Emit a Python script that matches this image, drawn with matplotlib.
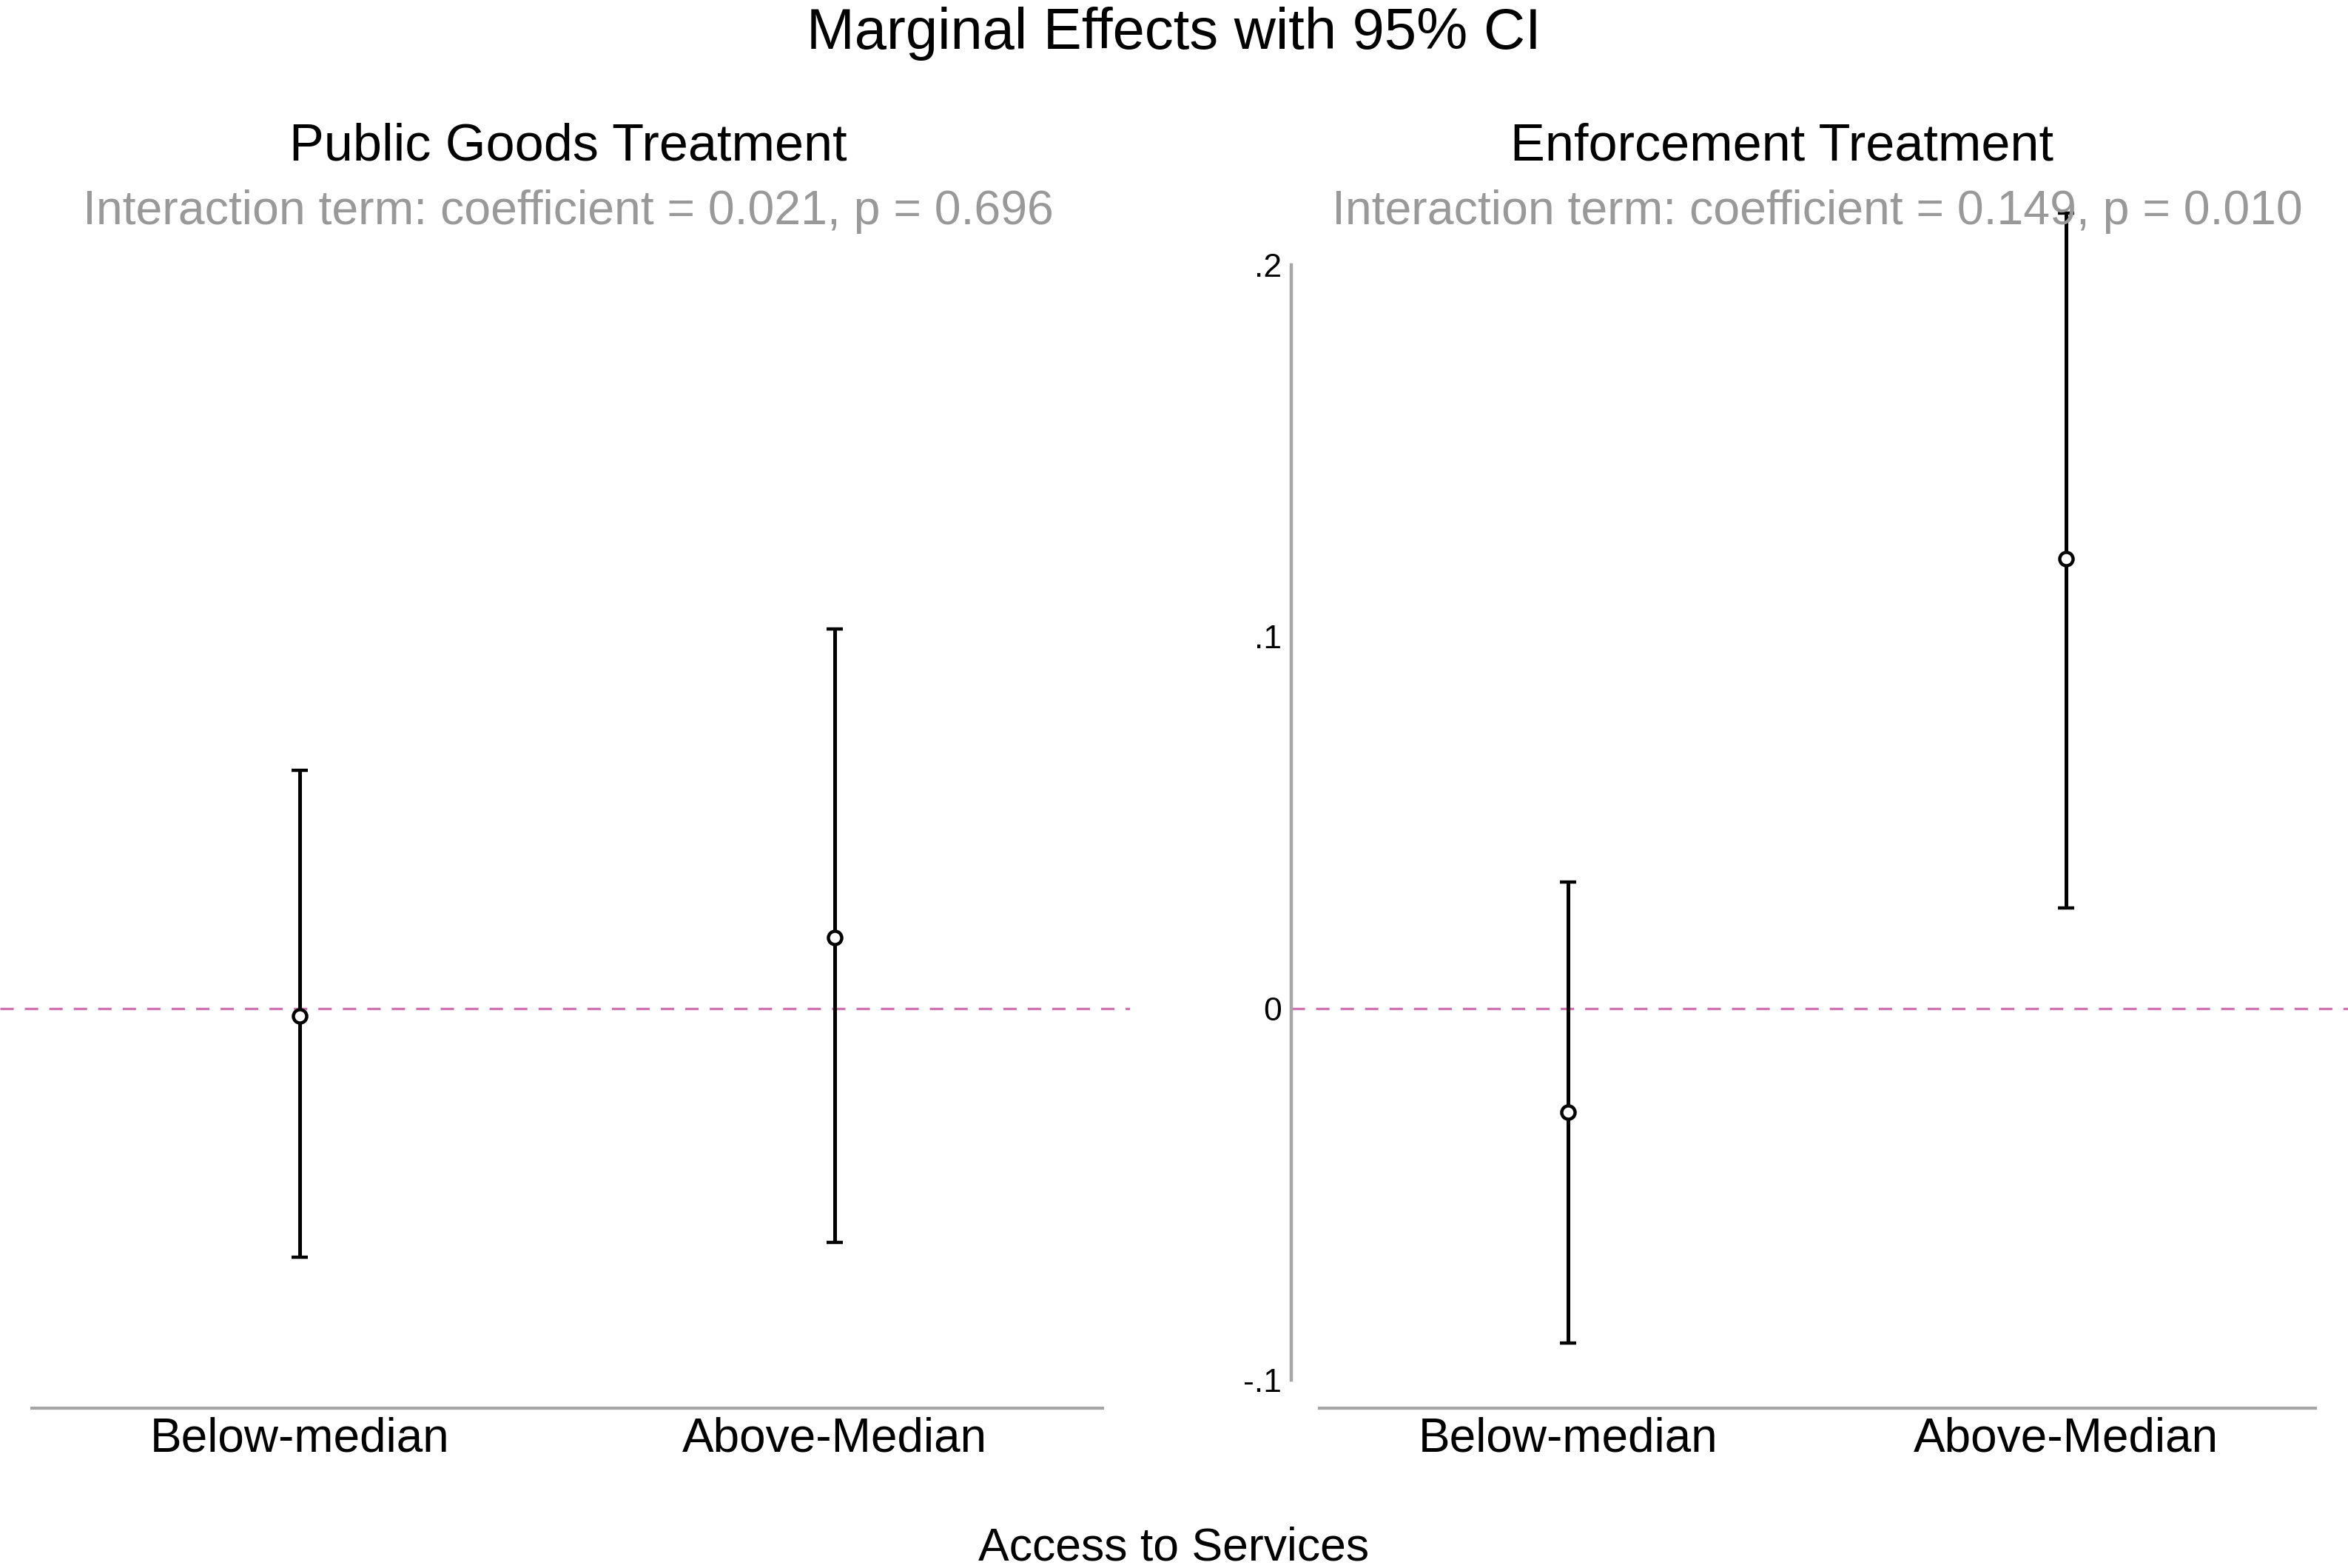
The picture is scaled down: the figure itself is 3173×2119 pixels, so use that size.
import matplotlib
matplotlib.use("Agg")
import matplotlib.pyplot as plt
import numpy as np

plt.rcParams['font.family'] = ['Liberation Sans', 'DejaVu Sans']
plt.rcParams['lines.scale_dashes'] = False

# data
categories = ["Below-median", "Above-Median"]
panel_titles = ["Public Goods Treatment", "Enforcement Treatment"]
panel_notes = ["Interaction term: coefficient = 0.021, p = 0.696",
               "Interaction term: coefficient = 0.149, p = 0.010"]

pg_est = [-0.002, 0.019]
pg_lo = [-0.067, -0.063]
pg_hi = [0.064, 0.102]

enf_est = [-0.028, 0.121]
enf_lo = [-0.090, 0.027]
enf_hi = [0.034, 0.214]

yticks = [-0.1, 0, 0.1, 0.2]
ytick_labels = ["-.1", "0", ".1", ".2"]

grey = "#a6a6a6"
pink = "#cf74b0"

fig = plt.figure(figsize=(15.865, 10.595), dpi=200)
ax_bottom, ax_height = 0.1199, 0.7112
ax_left = fig.add_axes([0.0, ax_bottom, 0.4813, ax_height])
ax_right = fig.add_axes([0.550, ax_bottom, 0.450, ax_height])

panels = [(ax_left, pg_est, pg_lo, pg_hi, (0.440, 2.552)),
          (ax_right, enf_est, enf_lo, enf_hi, (0.444, 2.566))]
x = np.arange(1, len(categories) + 1)

for i, (ax, est, lo, hi, xl) in enumerate(panels):
    # spine position first, it resets the ticks
    for s in ['top', 'right']:
        ax.spines[s].set_visible(False)
    ax.spines['bottom'].set_position(('outward', 13.7))
    ax.spines['bottom'].set_color(grey)
    ax.spines['bottom'].set_linewidth(1.5)

    est = np.array(est)
    yerr = [est - np.array(lo), np.array(hi) - est]
    ax.axhline(0, color=pink, lw=1.2, linestyle=(0, (6.5, 5.4)), zorder=1)
    ax.errorbar(x, est, yerr=yerr, fmt='o', color='black', ecolor='black',
                elinewidth=1.8, capsize=4, capthick=1.8, ms=6.5, mew=1.6,
                mfc='white', mec='black', clip_on=False, zorder=3)
    ax.set_xlim(*xl)
    ax.set_ylim(-0.1, 0.2)
    ax.set_xticks(x)
    ax.set_xticklabels(categories, fontsize=23)
    ax.tick_params(axis='x', length=0, pad=4)
    ax.spines['bottom'].set_bounds(0.5, 2.5)
    ax.patch.set_alpha(0)
    if i == 0:
        ax.spines['left'].set_visible(False)
        ax.set_yticks([])
    else:
        ax.spines['left'].set_color(grey)
        ax.spines['left'].set_linewidth(1.6)
        ax.set_yticks(yticks)
        ax.set_yticklabels(ytick_labels, fontsize=16)
        ax.tick_params(axis='y', length=0, pad=4.7)

# titles
fig.text(0.5, 0.969, "Marginal Effects with 95% CI", ha='center', va='baseline', fontsize=28)
title_x = [0.2420, 0.7588]
note_x = [0.2420, 0.7740]
for tx, nx, t, n in zip(title_x, note_x, panel_titles, panel_notes):
    fig.text(tx, 0.8976, t, ha='center', va='baseline', fontsize=25.3)
    fig.text(nx, 0.857, n, ha='center', va='baseline', fontsize=23.2, color='#999999')

fig.text(0.5, 0.005, "Access to Services", ha='center', va='baseline', fontsize=22.5)

fig.savefig("out.png", dpi=200, facecolor='white')
